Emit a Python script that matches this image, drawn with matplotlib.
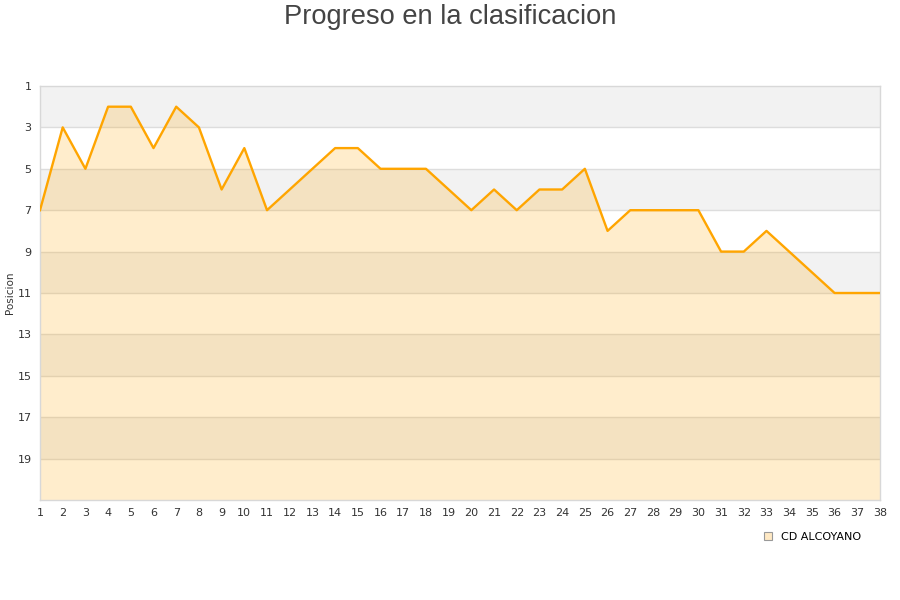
import matplotlib
matplotlib.use('Agg')
import matplotlib.pyplot as plt
from matplotlib.patches import Patch
import numpy as np

# jornada -> posicion en la tabla
jornadas = list(range(1, 39))
posiciones = [7, 3, 5, 2, 2, 4, 2, 3, 6, 4,
              7, 6, 5, 4, 4, 5, 5, 5, 6, 7,
              6, 7, 6, 6, 5, 8, 7, 7, 7, 7,
              9, 9, 8, 9, 10, 11, 11, 11]
y_ticks = list(range(1, 20, 2))
equipo = 'CD ALCOYANO'
titulo = 'Progreso en la clasificacion'

fig = plt.figure(figsize=(9, 6), dpi=100)
ax = fig.add_axes([40/900, 100/600, 840/900, 414/600])

y_min, y_max = 1, 21
# alternating background bands
for start in range(1, 21, 4):
    ax.axhspan(start, start + 2, color='#f2f2f2', zorder=0, lw=0)
for t in range(3, 21, 2):
    ax.axhline(t, color='#dddddd', lw=1, zorder=1)

ax.fill_between(jornadas, posiciones, y_max, color='#FFA500', alpha=0.2, lw=0, zorder=2)
ax.plot(jornadas, posiciones, color='#FFA500', lw=1.7, zorder=3)

ax.set_xlim(1, 38)
ax.set_ylim(y_max, y_min)
ax.set_xticks(jornadas)
ax.set_yticks(y_ticks)
ax.tick_params(axis='both', length=0, labelsize=8, colors='#333333', pad=6)
for s in ax.spines.values():
    s.set_color('#d8d8d8')
    s.set_linewidth(1)

fig.text(10/900, 1 - 293/600, 'Posicion', rotation=90, ha='center', va='center',
         fontsize=7.5, color='#333333')

fig.text(0.5, 0.993, titulo, ha='center', va='top', fontsize=19.6,
         color='#444444', family='Liberation Sans')

handle = Patch(facecolor='#FFE9C4', edgecolor='#999999', lw=0.8)
fig.legend([handle], [equipo], loc='center right', bbox_to_anchor=(0.968, 0.105),
           frameon=False, fontsize=8, handlelength=0.7, handleheight=0.7,
           handletextpad=0.8)

fig.savefig('out.png', dpi=100)
